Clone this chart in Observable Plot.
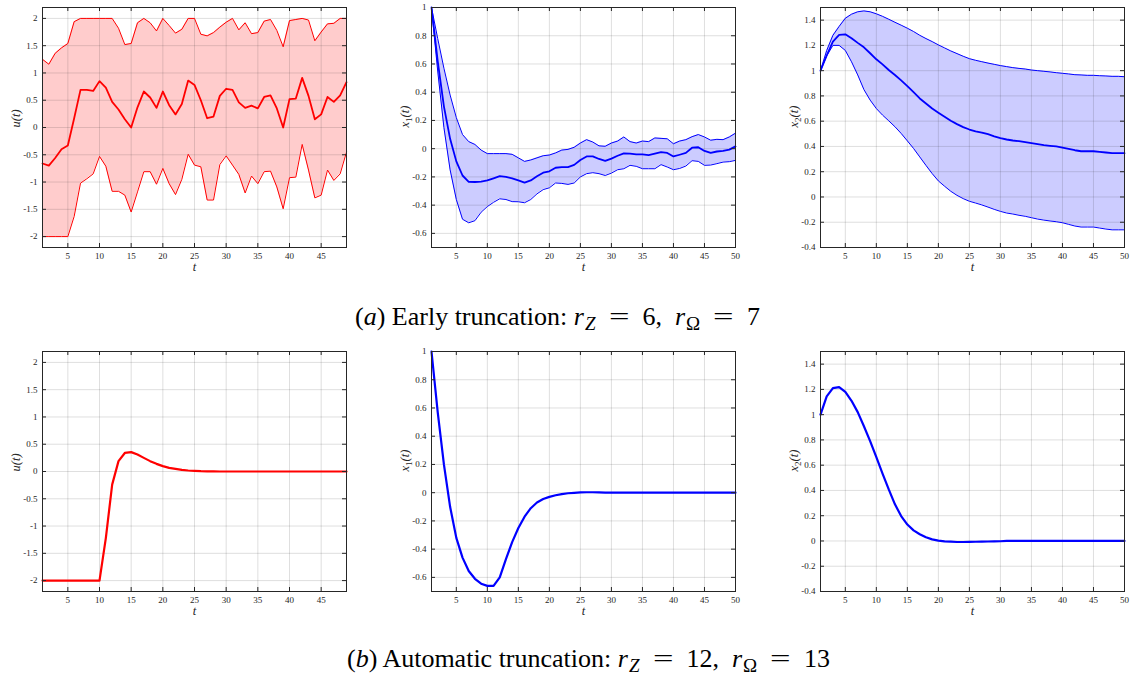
<!DOCTYPE html>
<html><head><meta charset="utf-8">
<script src="https://cdn.jsdelivr.net/npm/d3@7"></script>
<script src="https://cdn.jsdelivr.net/npm/@observablehq/plot@0.6"></script>
<style>
body{margin:0;background:#fff;}
#root{position:relative;width:1132px;height:675px;overflow:hidden;background:#fff;}
.panel{position:absolute;}
.cap{position:absolute;font-family:"Liberation Serif","Times New Roman",Tinos,serif;font-size:26px;line-height:26px;color:#000;white-space:nowrap;}
.cap sub{font-size:19px;vertical-align:-5px;line-height:0;margin-left:1px;}
.cap .rel{display:inline-block;transform:scaleX(1.4);margin:0 0.62em;}
.cap .sep{margin-right:0.25em;}
</style></head><body><div id="root"></div>
<script>
// ---- data (t = 1, 2, ...) ----
const uUpperA = [1.25,1.16,1.36,1.46,1.54,1.94,2,2,2,2, 2,2,1.82,1.52,1.54,1.92,2,1.92,1.77,2, 1.87,1.73,1.80,2,2,1.71,1.68,1.74,1.84,1.93, 2,1.79,1.92,1.72,1.74,1.95,1.98,1.78,1.48,1.96, 1.98,2,1.97,1.59,1.75,1.90,1.91,2,2];
const uMidA = [-0.66,-0.70,-0.56,-0.40,-0.33,0.17,0.69,0.69,0.67,0.85, 0.73,0.47,0.33,0.15,0.0,0.37,0.66,0.55,0.36,0.66, 0.41,0.24,0.43,0.86,0.78,0.50,0.17,0.20,0.58,0.71, 0.69,0.46,0.36,0.40,0.35,0.56,0.59,0.35,0.0,0.52, 0.53,0.91,0.58,0.15,0.24,0.56,0.47,0.59,0.83];
const uLowerA = [-2,-2,-2,-2,-2,-1.63,-1.02,-0.94,-0.85,-0.53, -0.71,-1.17,-1.17,-1.24,-1.55,-1.18,-0.81,-0.81,-1.04,-0.75, -1.03,-1.23,-0.95,-0.49,-0.69,-0.72,-1.33,-1.33,-0.68,-0.52, -0.69,-0.86,-1.20,-0.89,-1.03,-0.81,-0.80,-1.09,-1.49,-0.92, -0.91,-0.31,-0.78,-1.29,-1.24,-0.78,-0.97,-0.85,-0.45];

const x1UpperA = [1.0,0.78,0.57,0.38,0.22,0.10,0.05,0.03,-0.01,-0.035, -0.035,-0.035,-0.035,-0.04,-0.065,-0.09,-0.08,-0.065,-0.05,-0.045, -0.03,-0.01,-0.005,0.01,0.04,0.064,0.047,0.02,0.017,0.04, 0.054,0.083,0.05,0.04,0.054,0.05,0.076,0.073,0.07,0.035, 0.054,0.064,0.085,0.10,0.083,0.06,0.066,0.064,0.083,0.11];
const x1MidA = [1.0,0.62,0.30,0.07,-0.09,-0.19,-0.235,-0.236,-0.233,-0.225, -0.21,-0.195,-0.2,-0.21,-0.225,-0.24,-0.225,-0.196,-0.17,-0.16, -0.135,-0.13,-0.13,-0.115,-0.08,-0.055,-0.055,-0.073,-0.087,-0.07, -0.05,-0.033,-0.035,-0.04,-0.04,-0.045,-0.035,-0.024,-0.03,-0.055, -0.043,-0.03,0.007,0.01,-0.016,-0.03,-0.02,-0.016,-0.007,0.016];
const x1LowerA = [1.0,0.55,0.15,-0.15,-0.36,-0.5,-0.525,-0.51,-0.45,-0.41, -0.38,-0.355,-0.36,-0.375,-0.376,-0.383,-0.36,-0.32,-0.29,-0.277, -0.243,-0.246,-0.253,-0.243,-0.2,-0.177,-0.17,-0.177,-0.19,-0.173, -0.149,-0.142,-0.118,-0.125,-0.142,-0.142,-0.142,-0.113,-0.13,-0.149, -0.14,-0.123,-0.085,-0.09,-0.118,-0.116,-0.106,-0.095,-0.092,-0.083];

const x2UpperA = [1.0,1.16,1.28,1.35,1.415,1.447,1.466,1.473,1.466,1.45, 1.43,1.407,1.383,1.36,1.336,1.31,1.28,1.254,1.23,1.204, 1.18,1.156,1.135,1.114,1.095,1.082,1.071,1.06,1.05,1.04, 1.032,1.024,1.018,1.013,1.005,1.0,0.995,0.99,0.984,0.979, 0.974,0.968,0.966,0.963,0.963,0.96,0.958,0.955,0.955,0.952];
const x2MidA = [1.0,1.12,1.23,1.283,1.288,1.257,1.22,1.185,1.138,1.09, 1.05,1.005,0.966,0.923,0.878,0.83,0.78,0.74,0.70,0.667, 0.635,0.603,0.577,0.553,0.534,0.52,0.51,0.497,0.48,0.466, 0.455,0.447,0.442,0.434,0.426,0.418,0.41,0.405,0.40,0.39, 0.38,0.37,0.362,0.362,0.362,0.357,0.352,0.347,0.347,0.347];
const x2LowerA = [1.0,1.117,1.20,1.20,1.16,1.07,0.966,0.85,0.767,0.70, 0.648,0.603,0.556,0.503,0.444,0.384,0.317,0.25,0.185,0.127, 0.085,0.045,0.013,-0.013,-0.034,-0.048,-0.063,-0.08,-0.098,-0.114, -0.127,-0.135,-0.145,-0.153,-0.164,-0.175,-0.183,-0.19,-0.196,-0.204, -0.217,-0.23,-0.238,-0.238,-0.238,-0.246,-0.254,-0.26,-0.26,-0.26];

const uB = [-2,-2,-2,-2,-2,-2,-2,-2,-2,-2, -1.22,-0.24,0.19,0.34,0.355,0.31,0.25,0.19,0.14,0.098, 0.067,0.049,0.03,0.018,0.012,0.006,0.003,0.001,0,0, 0,0,0,0,0,0,0,0,0,0, 0,0,0,0,0,0,0,0,0];
const x1B = [1.0,0.57,0.2,-0.1,-0.32,-0.46,-0.555,-0.61,-0.645,-0.66, -0.66,-0.6,-0.47,-0.35,-0.25,-0.17,-0.11,-0.07,-0.045,-0.03, -0.018,-0.01,-0.004,-0.001,0.002,0.003,0.003,0.002,0.001,0, 0,0,0,0,0,0,0,0,0,0, 0,0,0,0,0,0,0,0,0,0];
const x2B = [1.0,1.145,1.21,1.218,1.18,1.11,1.02,0.908,0.79,0.663, 0.534,0.408,0.29,0.197,0.13,0.084,0.053,0.029,0.013,0.003, -0.003,-0.005,-0.008,-0.008,-0.007,-0.006,-0.005,-0.004,-0.003,-0.002, 0,0,0,0,0,0,0,0,0,0, 0,0,0,0,0,0,0,0,0,0];

const xTicksU = [5,10,15,20,25,30,35,40,45];
const xTicksX = [5,10,15,20,25,30,35,40,45,50];
const yTicksU = [-2,-1.5,-1,-0.5,0,0.5,1,1.5,2];
const yTicksX1 = [-0.6,-0.4,-0.2,0,0.2,0.4,0.6,0.8,1];
const yTicksX2 = [-0.4,-0.2,0,0.2,0.4,0.6,0.8,1,1.2,1.4];

const labelU = ["u", "", "(t)"];
const labelX1 = ["x", "1", "(t)"];
const labelX2 = ["x", "2", "(t)"];
const captionA = ["a", "Early truncation: ", "6", "7"];
const captionB = ["b", "Automatic truncation: ", "12", "13"];

// ---- build ----
const root = document.getElementById("root");
const INK = "#262626";
const SERIF = "'Liberation Serif', 'Times New Roman', Tinos, serif";

function rowsOf(arrs) {
  return arrs[0].map((_, i) => {
    const r = {t: i + 1};
    arrs.forEach((a, k) => r["v" + k] = a[i]);
    return r;
  });
}

function panel({left, top, xDomain, yDomain, xTicks, yTicks, ylabel, color, lo, mid, hi}) {
  const W = 352, H = 280, ml = 42, mr = 6, mt = 7, mb = 33;
  const iw = W - ml - mr, ih = H - mt - mb;
  const labelText = ylabel.join("");
  const marks = [];
  if (lo) {
    const rows = rowsOf([lo, mid, hi]);
    marks.push(Plot.areaY(rows, {x: "t", y1: "v0", y2: "v2", fill: color, fillOpacity: 0.2}));
  }
  marks.push(Plot.gridX(xTicks, {stroke: INK, strokeOpacity: 0.15, strokeWidth: 1}));
  marks.push(Plot.gridY(yTicks, {stroke: INK, strokeOpacity: 0.15, strokeWidth: 1}));
  if (lo) {
    const rows = rowsOf([lo, mid, hi]);
    marks.push(Plot.lineY(rows, {x: "t", y: "v0", stroke: color, strokeWidth: 1}));
    marks.push(Plot.lineY(rows, {x: "t", y: "v2", stroke: color, strokeWidth: 1}));
    marks.push(Plot.lineY(rows, {x: "t", y: "v1", stroke: color, strokeWidth: 1.8}));
  } else {
    const rows = rowsOf([mid]);
    marks.push(Plot.lineY(rows, {x: "t", y: "v0", stroke: color, strokeWidth: 2.2}));
  }
  marks.push(Plot.tickX(xTicks, {x: d => d, insetTop: ih - 4, stroke: INK}));
  marks.push(Plot.tickX(xTicks, {x: d => d, insetBottom: ih - 4, stroke: INK}));
  marks.push(Plot.tickY(yTicks, {y: d => d, insetRight: iw - 4, stroke: INK}));
  marks.push(Plot.tickY(yTicks, {y: d => d, insetLeft: iw - 4, stroke: INK}));
  marks.push(Plot.frame({stroke: INK, strokeWidth: 1}));
  marks.push(Plot.axisX(xTicks, {tickSize: 0, tickPadding: 5, label: null, tickFormat: d => String(d), fill: INK}));
  marks.push(Plot.axisY(yTicks, {tickSize: 0, tickPadding: 5, label: null, tickFormat: d => String(d), fill: INK}));
  marks.push(Plot.text(["t"], {text: d => d, frameAnchor: "bottom", dy: 23, fontStyle: "italic", fontSize: 12.5, fill: INK}));
  marks.push(Plot.text([labelText], {text: d => d, frameAnchor: "left", dx: -27, rotate: -90, fontStyle: "italic", fontSize: 12.5, fill: INK}));
  const svg = Plot.plot({
    width: W, height: H, marginLeft: ml, marginRight: mr, marginTop: mt, marginBottom: mb,
    x: {domain: xDomain}, y: {domain: yDomain},
    style: {fontFamily: SERIF, fontSize: "9px", color: INK, background: "transparent", overflow: "visible"},
    marks
  });
  // typeset the subscript of the y label
  if (ylabel[1]) {
    d3.select(svg).selectAll("text").filter(function() { return this.textContent === labelText; }).each(function() {
      const t = d3.select(this);
      t.text(null);
      t.append("tspan").text(ylabel[0]);
      t.append("tspan").attr("font-size", 9).attr("font-style", "normal").attr("dy", 3).text(ylabel[1]);
      t.append("tspan").attr("dy", -3).text(ylabel[2]);
    });
  }
  const div = document.createElement("div");
  div.className = "panel";
  div.style.left = left + "px";
  div.style.top = top + "px";
  div.appendChild(svg);
  root.appendChild(div);
}

const row1 = 0, row2 = 343.5;
const c1 = 0, c2 = 389, c3 = 777.5;
panel({left: c1, top: row1, xDomain: [1, 49], yDomain: [-2.2, 2.2], xTicks: xTicksU, yTicks: yTicksU, ylabel: labelU, color: "#ff0000", lo: uLowerA, mid: uMidA, hi: uUpperA});
panel({left: c2, top: row1, xDomain: [1, 50], yDomain: [-0.7, 1], xTicks: xTicksX, yTicks: yTicksX1, ylabel: labelX1, color: "#0000ff", lo: x1LowerA, mid: x1MidA, hi: x1UpperA});
panel({left: c3, top: row1, xDomain: [1, 50], yDomain: [-0.4, 1.5], xTicks: xTicksX, yTicks: yTicksX2, ylabel: labelX2, color: "#0000ff", lo: x2LowerA, mid: x2MidA, hi: x2UpperA});
panel({left: c1, top: row2, xDomain: [1, 49], yDomain: [-2.2, 2.2], xTicks: xTicksU, yTicks: yTicksU, ylabel: labelU, color: "#ff0000", mid: uB});
panel({left: c2, top: row2, xDomain: [1, 50], yDomain: [-0.7, 1], xTicks: xTicksX, yTicks: yTicksX1, ylabel: labelX1, color: "#0000ff", mid: x1B});
panel({left: c3, top: row2, xDomain: [1, 50], yDomain: [-0.4, 1.5], xTicks: xTicksX, yTicks: yTicksX2, ylabel: labelX2, color: "#0000ff", mid: x2B});

function caption(parts, left, top) {
  const d = document.createElement("div");
  d.className = "cap";
  d.style.left = left + "px";
  d.style.top = top + "px";
  d.innerHTML = `(<i>${parts[0]}</i>) ${parts[1]}<i>r</i><sub><i>Z</i></sub><span class="rel">=</span>${parts[2]},<span class="sep"></span> <i>r</i><sub>\u03A9</sub><span class="rel">=</span>${parts[3]}`;
  root.appendChild(d);
}
caption(captionA, 355, 304);
caption(captionB, 347, 646);
</script></body></html>
